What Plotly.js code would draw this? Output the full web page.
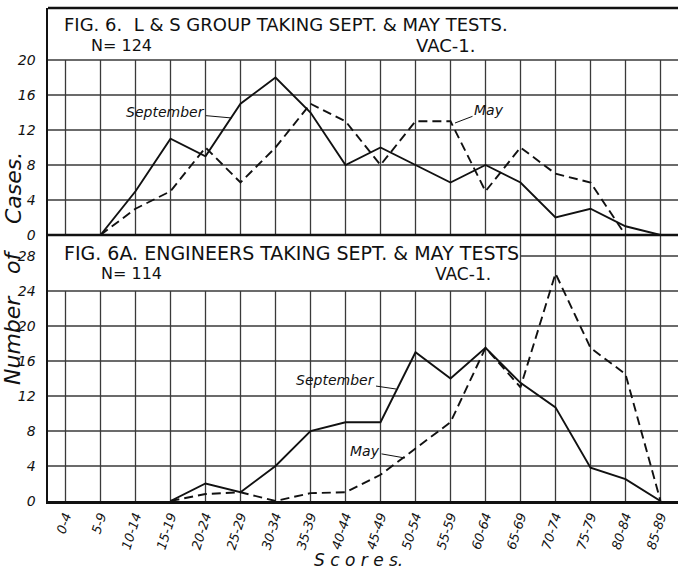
<!DOCTYPE html>
<html><head><meta charset="utf-8">
<script src="https://cdn.plot.ly/plotly-3.0.1.min.js"></script>
<style>html,body{margin:0;padding:0;background:#fff}</style>
</head><body>
<div id="chart" style="width:678px;height:569px"></div>
<script>
const categories = ['0-4','5-9','10-14','15-19','20-24','25-29','30-34','35-39','40-44','45-49','50-54','55-59','60-64','65-69','70-74','75-79','80-84','85-89'];
// Fig. 6: L & S group (N=124)
const lsSeptember = [null,0,5,11,9,15,18,14,8,10,8,6,8,6,2,3,1,0];
const lsMay       = [null,0,3,5,10,6,10,15,13,8,13,13,5,10,7,6,0,null];
// Fig. 6A: Engineers (N=114)
const engSeptember = [null,null,null,0,2,1,4,8,9,9,17,14,17.5,13.5,10.7,3.8,2.5,0];
const engMay       = [null,null,null,0,0.8,1,0,0.9,1,3,6,9,17.5,13,26,17.5,14.5,0];
const topTicks = [0,4,8,12,16,20];
const bottomTicks = [0,4,8,12,16,20,24,28];

const L=48, R=0, T=8, B=68, W=678, Hh=569;
const PW=W-L-R, PH=Hh-T-B;
const px = x => (x-L)/PW;
const py = y => (Hh-B-y)/PH;
const divide = py(235);
const topMax = 25.94, botMax = 30.4;

const black='#111', grid='#3a3a3a';
const solid = {color:black,width:1.9};
const dashed = {color:black,width:1.9,dash:'9px,5px'};

const traces = [
  {x:categories,y:lsSeptember,xaxis:'x',yaxis:'y2',mode:'lines',line:solid,name:'September',connectgaps:false},
  {x:categories,y:lsMay,xaxis:'x',yaxis:'y2',mode:'lines',line:dashed,name:'May',connectgaps:false},
  {x:categories,y:engSeptember,xaxis:'x',yaxis:'y',mode:'lines',line:solid,name:'September',connectgaps:false},
  {x:categories,y:engMay,xaxis:'x',yaxis:'y',mode:'lines',line:dashed,name:'May',connectgaps:false}
];

const shapes = [];
const gl = {color:grid,width:1.3};
// top panel grid
topTicks.slice(1).forEach(v=>shapes.push({type:'line',xref:'paper',yref:'y2',x0:0,x1:1,y0:v,y1:v,line:gl,layer:'below'}));
categories.forEach(c=>shapes.push({type:'line',xref:'x',yref:'y2',x0:c,x1:c,y0:0,y1:20,line:gl,layer:'below'}));
// bottom panel grid
bottomTicks.slice(1).forEach(v=>{
  if(v<28) shapes.push({type:'line',xref:'paper',yref:'y',x0:0,x1:1,y0:v,y1:v,line:gl,layer:'below'});
  else shapes.push({type:'line',xref:'x',yref:'y',x0:categories[13],x1:17.5,y0:v,y1:v,line:gl,layer:'below'});
});
categories.forEach((c,i)=>shapes.push({type:'line',xref:'x',yref:'y',x0:c,x1:c,y0:0,y1:(i>=13?botMax:24),line:gl,layer:'below'}));
// frame
shapes.push({type:'line',xref:'paper',yref:'paper',x0:0,x1:1,y0:1,y1:1,line:{color:black,width:2.5}});
shapes.push({type:'line',xref:'paper',yref:'paper',x0:0,x1:1,y0:divide,y1:divide,line:{color:black,width:2.5}});

const tf = {family:'DejaVu Sans',size:18,color:black};
const tf2 = {family:'DejaVu Sans',size:19,color:black};
const nf = {family:'DejaVu Sans',size:16,color:black};
const itf = {family:'DejaVu Sans',size:14,color:black,style:'italic'};
const yf = {family:'DejaVu Sans',size:22,color:black,style:'italic'};
function txt(text,x,y,font,anchor){return {text,xref:'paper',yref:'paper',x:px(x),y:py(y),xanchor:anchor||'left',yanchor:'middle',showarrow:false,font};}
function rot(text,x,y){return {text,xref:'paper',yref:'paper',x:px(x),y:py(y),xanchor:'center',yanchor:'middle',textangle:-90,showarrow:false,font:yf};}
function lbl(text,tipx,tipy,tx,ty){return {text,xref:'paper',yref:'paper',x:px(tipx),y:py(tipy),ax:tx-tipx,ay:ty-tipy,showarrow:true,arrowhead:0,arrowwidth:1,arrowcolor:black,standoff:0,startstandoff:0,font:itf};}

const annotations = [
  txt('FIG. 6.  L & S GROUP TAKING SEPT. & MAY TESTS.',62,25,tf),
  txt('N= 124',89,45,nf),
  txt('VAC-1.',414,46,{family:'DejaVu Sans',size:18,color:black}),
  txt('FIG. 6A. ENGINEERS TAKING SEPT. & MAY TESTS',62,253,tf2),
  txt('N= 114',99,273,nf),
  txt('VAC-1.',433,274,{family:'DejaVu Sans',size:17,color:black}),
  lbl('September',232,118,165,112),
  lbl('May',455,123,489,110),
  lbl('September',396,389,335,380),
  lbl('May',405,458,365,451),
  {text:'S c o r e s.',xref:'paper',yref:'paper',x:px(358),y:py(560),xanchor:'center',yanchor:'middle',showarrow:false,font:{family:'DejaVu Sans',size:17,color:black,style:'italic'}},
  rot('Cases.',13,188),
  rot('of',12,262),
  rot('Number',13,340)
];

const layout = {
  width:W,height:Hh,margin:{l:L,r:R,t:T,b:B,pad:0},
  paper_bgcolor:'#fff',plot_bgcolor:'#fff',showlegend:false,
  xaxis:{type:'category',range:[-0.5,17.5],showgrid:false,zeroline:false,showline:true,linecolor:black,linewidth:2.5,
    tickmode:'array',tickvals:categories,ticktext:categories,tickangle:-72,ticks:'',
    tickfont:{family:'DejaVu Sans',size:13,color:black,style:'italic'},anchor:'y'},
  yaxis:{domain:[0,divide],range:[0,botMax],showgrid:false,zeroline:false,showline:true,linecolor:black,linewidth:2.5,
    tickmode:'array',tickvals:bottomTicks,ticktext:bottomTicks.map(String),ticks:'',ticklabelstandoff:7,
    tickfont:{family:'DejaVu Sans',size:14,color:black,style:'italic'},anchor:'x'},
  yaxis2:{domain:[divide,1],range:[0,topMax],showgrid:false,zeroline:false,showline:true,linecolor:black,linewidth:2.5,
    tickmode:'array',tickvals:topTicks,ticktext:topTicks.map(String),ticks:'',ticklabelstandoff:7,
    tickfont:{family:'DejaVu Sans',size:14,color:black,style:'italic'},anchor:'x'},
  shapes,annotations
};
Plotly.newPlot('chart',traces,layout,{staticPlot:true,displayModeBar:false});
</script>
</body></html>
